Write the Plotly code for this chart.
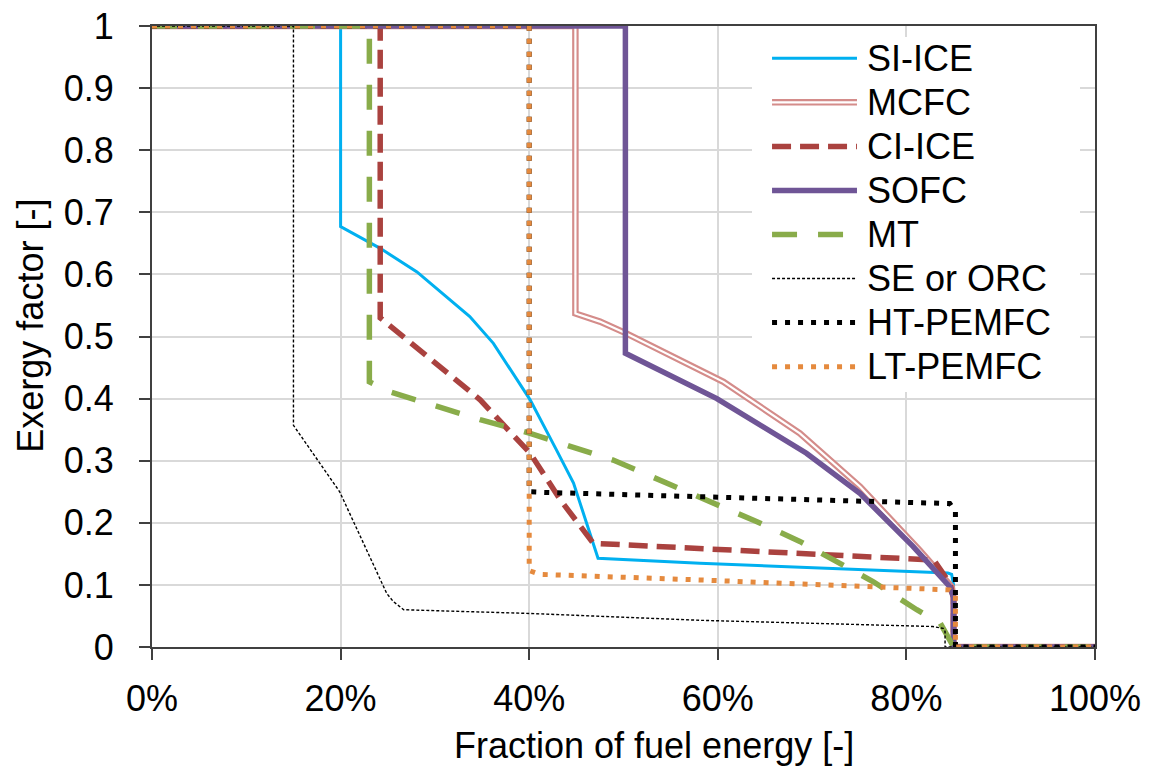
import plotly.graph_objects as go

# Exergy factor vs. fraction of fuel energy for several CHP technologies
series_names = ["SI-ICE", "MCFC", "CI-ICE", "SOFC", "MT", "SE or ORC", "HT-PEMFC", "LT-PEMFC"]

si_ice_x = [0, 20, 20, 24.2, 28.1, 33.7, 36.2, 40.1, 42.9, 44.7, 47.3, 58.1, 84.4, 84.8, 85.0, 85.0, 100]
si_ice_y = [1, 1, 0.677, 0.642, 0.604, 0.532, 0.489, 0.398, 0.317, 0.264, 0.143, 0.135, 0.119, 0.117, 0.1, 0, 0]

mcfc_x = [0, 44.9, 44.9, 47.5, 50.3, 60.6, 68.7, 75.1, 81.4, 84.8, 85.0, 85.0, 100]
mcfc_y = [1, 1, 0.537, 0.524, 0.505, 0.427, 0.344, 0.258, 0.156, 0.097, 0.08, 0, 0]

ci_ice_x = [0, 24.2, 24.2, 28.8, 34.8, 40.1, 43.3, 46.8, 58.1, 79.3, 82.9, 84.6, 85.0, 85.0, 100]
ci_ice_y = [1, 1, 0.53, 0.473, 0.398, 0.312, 0.237, 0.167, 0.159, 0.144, 0.140, 0.103, 0.08, 0, 0]

sofc_x = [0, 50.2, 50.2, 59.9, 69.4, 75.1, 80.7, 84.6, 85.0, 85.0, 100]
sofc_y = [1, 1, 0.473, 0.400, 0.312, 0.247, 0.162, 0.097, 0.08, 0, 0]

mt_x = [0, 23.05, 23.05, 25.2, 34.8, 40.1, 48.9, 58.1, 64.1, 68.7, 73.0, 76.5, 81.1, 83.6, 84.6, 85.0, 100]
mt_y = [1, 1, 0.427, 0.411, 0.366, 0.344, 0.301, 0.242, 0.202, 0.170, 0.135, 0.105, 0.060, 0.038, 0.011, 0, 0]

se_orc_x = [0, 15.0, 15.0, 19.9, 24.9, 25.6, 26.7, 40.1, 58.1, 82.8, 83.9, 84.1, 84.1, 100]
se_orc_y = [1, 1, 0.357, 0.250, 0.086, 0.073, 0.060, 0.054, 0.043, 0.033, 0.030, 0.025, 0, 0]

ht_pemfc_x = [0, 40, 40, 41.5, 58.1, 84.6, 85.2, 85.2, 100]
ht_pemfc_y = [1, 1, 0.250, 0.249, 0.242, 0.231, 0.218, 0, 0]

lt_pemfc_x = [0, 40, 40, 41.1, 58.1, 82.9, 84.6, 85.2, 85.2, 100]
lt_pemfc_y = [1, 1, 0.123, 0.117, 0.108, 0.094, 0.092, 0.085, 0, 0]

x_ticks = [0, 20, 40, 60, 80, 100]
x_tick_labels = ["0%", "20%", "40%", "60%", "80%", "100%"]
y_ticks = [0, 0.1, 0.2, 0.3, 0.4, 0.5, 0.6, 0.7, 0.8, 0.9, 1]
y_tick_labels = ["0", "0.1", "0.2", "0.3", "0.4", "0.5", "0.6", "0.7", "0.8", "0.9", "1"]

FONT = "Liberation Sans, Arial, sans-serif"
FS = 36

# per-series line styles; MCFC is a double line (outer colour + white core)
styles = {
    "SI-ICE":    [dict(color="#00B0F0", width=3, dash="solid")],
    "MCFC":      [dict(color="#D48C8A", width=6.5, dash="solid"), dict(color="#FFFFFF", width=2.2, dash="solid")],
    "CI-ICE":    [dict(color="#AA423F", width=5.5, dash="19px,9px")],
    "SOFC":      [dict(color="#6F5596", width=5.5, dash="solid")],
    "MT":        [dict(color="#89AC4A", width=5.5, dash="25px,21px")],
    "SE or ORC": [dict(color="#000000", width=1.4, dash="3px,2px")],
    "HT-PEMFC":  [dict(color="#000000", width=5, dash="5px,8px")],
    "LT-PEMFC":  [dict(color="#E58A3E", width=5, dash="5px,8px")],
}

data = {
    "SI-ICE": (si_ice_x, si_ice_y),
    "MCFC": (mcfc_x, mcfc_y),
    "CI-ICE": (ci_ice_x, ci_ice_y),
    "SOFC": (sofc_x, sofc_y),
    "MT": (mt_x, mt_y),
    "SE or ORC": (se_orc_x, se_orc_y),
    "HT-PEMFC": (ht_pemfc_x, ht_pemfc_y),
    "LT-PEMFC": (lt_pemfc_x, lt_pemfc_y),
}

fig = go.Figure()

for name in series_names:
    xs, ys = data[name]
    for ln in styles[name]:
        fig.add_trace(go.Scatter(
            x=xs, y=ys, mode="lines", name=name, showlegend=False,
            line=dict(color=ln["color"], width=ln["width"], dash=ln["dash"]),
            xaxis="x", yaxis="y", hoverinfo="skip",
        ))

# Legend drawn on its own small subplot (x2/y2): one row per series
leg_top, leg_bot = -0.483, 7.575
fig.add_trace(go.Scatter(
    x=[0, 1, 1, 0, 0], y=[leg_top, leg_top, leg_bot, leg_bot, leg_top],
    mode="lines", fill="toself", fillcolor="white", line=dict(width=0),
    xaxis="x2", yaxis="y2", showlegend=False, hoverinfo="skip",
))
sample_x0, sample_x1, text_x = 0.061, 0.320, 0.345
for i, name in enumerate(series_names):
    for ln in styles[name]:
        fig.add_trace(go.Scatter(
            x=[sample_x0, sample_x1], y=[i, i], mode="lines", showlegend=False,
            line=dict(color=ln["color"], width=ln["width"], dash=ln["dash"]),
            xaxis="x2", yaxis="y2", hoverinfo="skip",
        ))
    fig.add_annotation(
        x=text_x, y=i, xref="x2", yref="y2", text=name, showarrow=False,
        xanchor="left", yanchor="middle",
        font=dict(family=FONT, size=FS, color="#000000"),
    )

axis_common = dict(
    showline=True, linecolor="#404040", linewidth=2, mirror=True,
    showgrid=True, gridcolor="#D9D9D9", gridwidth=1.5,
    ticks="outside", ticklen=11, tickwidth=2, tickcolor="#404040",
    zeroline=False, automargin=False,
    tickfont=dict(family=FONT, size=FS, color="#000000"),
)

fig.update_layout(
    width=1155, height=767,
    margin=dict(l=152, r=60, t=26, b=120),
    paper_bgcolor="white", plot_bgcolor="white",
    showlegend=False,
    xaxis=dict(range=[0, 100], tickvals=x_ticks, ticktext=x_tick_labels,
               ticklabelstandoff=8, **axis_common),
    yaxis=dict(range=[0, 1], tickvals=y_ticks, ticktext=y_tick_labels,
               ticklabelstandoff=18, **axis_common),
    xaxis2=dict(domain=[0.6363, 0.9841], range=[0, 1], visible=False, anchor="y2", automargin=False),
    yaxis2=dict(domain=[0.4106, 0.9823], range=[leg_bot, leg_top], visible=False, anchor="x2", automargin=False),
)

fig.add_annotation(
    x=0.532, y=-0.158, xref="paper", yref="paper", text="Fraction of fuel energy [-]",
    showarrow=False, xanchor="center", yanchor="middle",
    font=dict(family=FONT, size=FS, color="#000000"),
)
fig.add_annotation(
    x=-0.129, y=0.518, xref="paper", yref="paper", text="Exergy factor [-]",
    showarrow=False, xanchor="center", yanchor="middle", textangle=-90,
    font=dict(family=FONT, size=FS, color="#000000"),
)

fig.write_html("out.html")
